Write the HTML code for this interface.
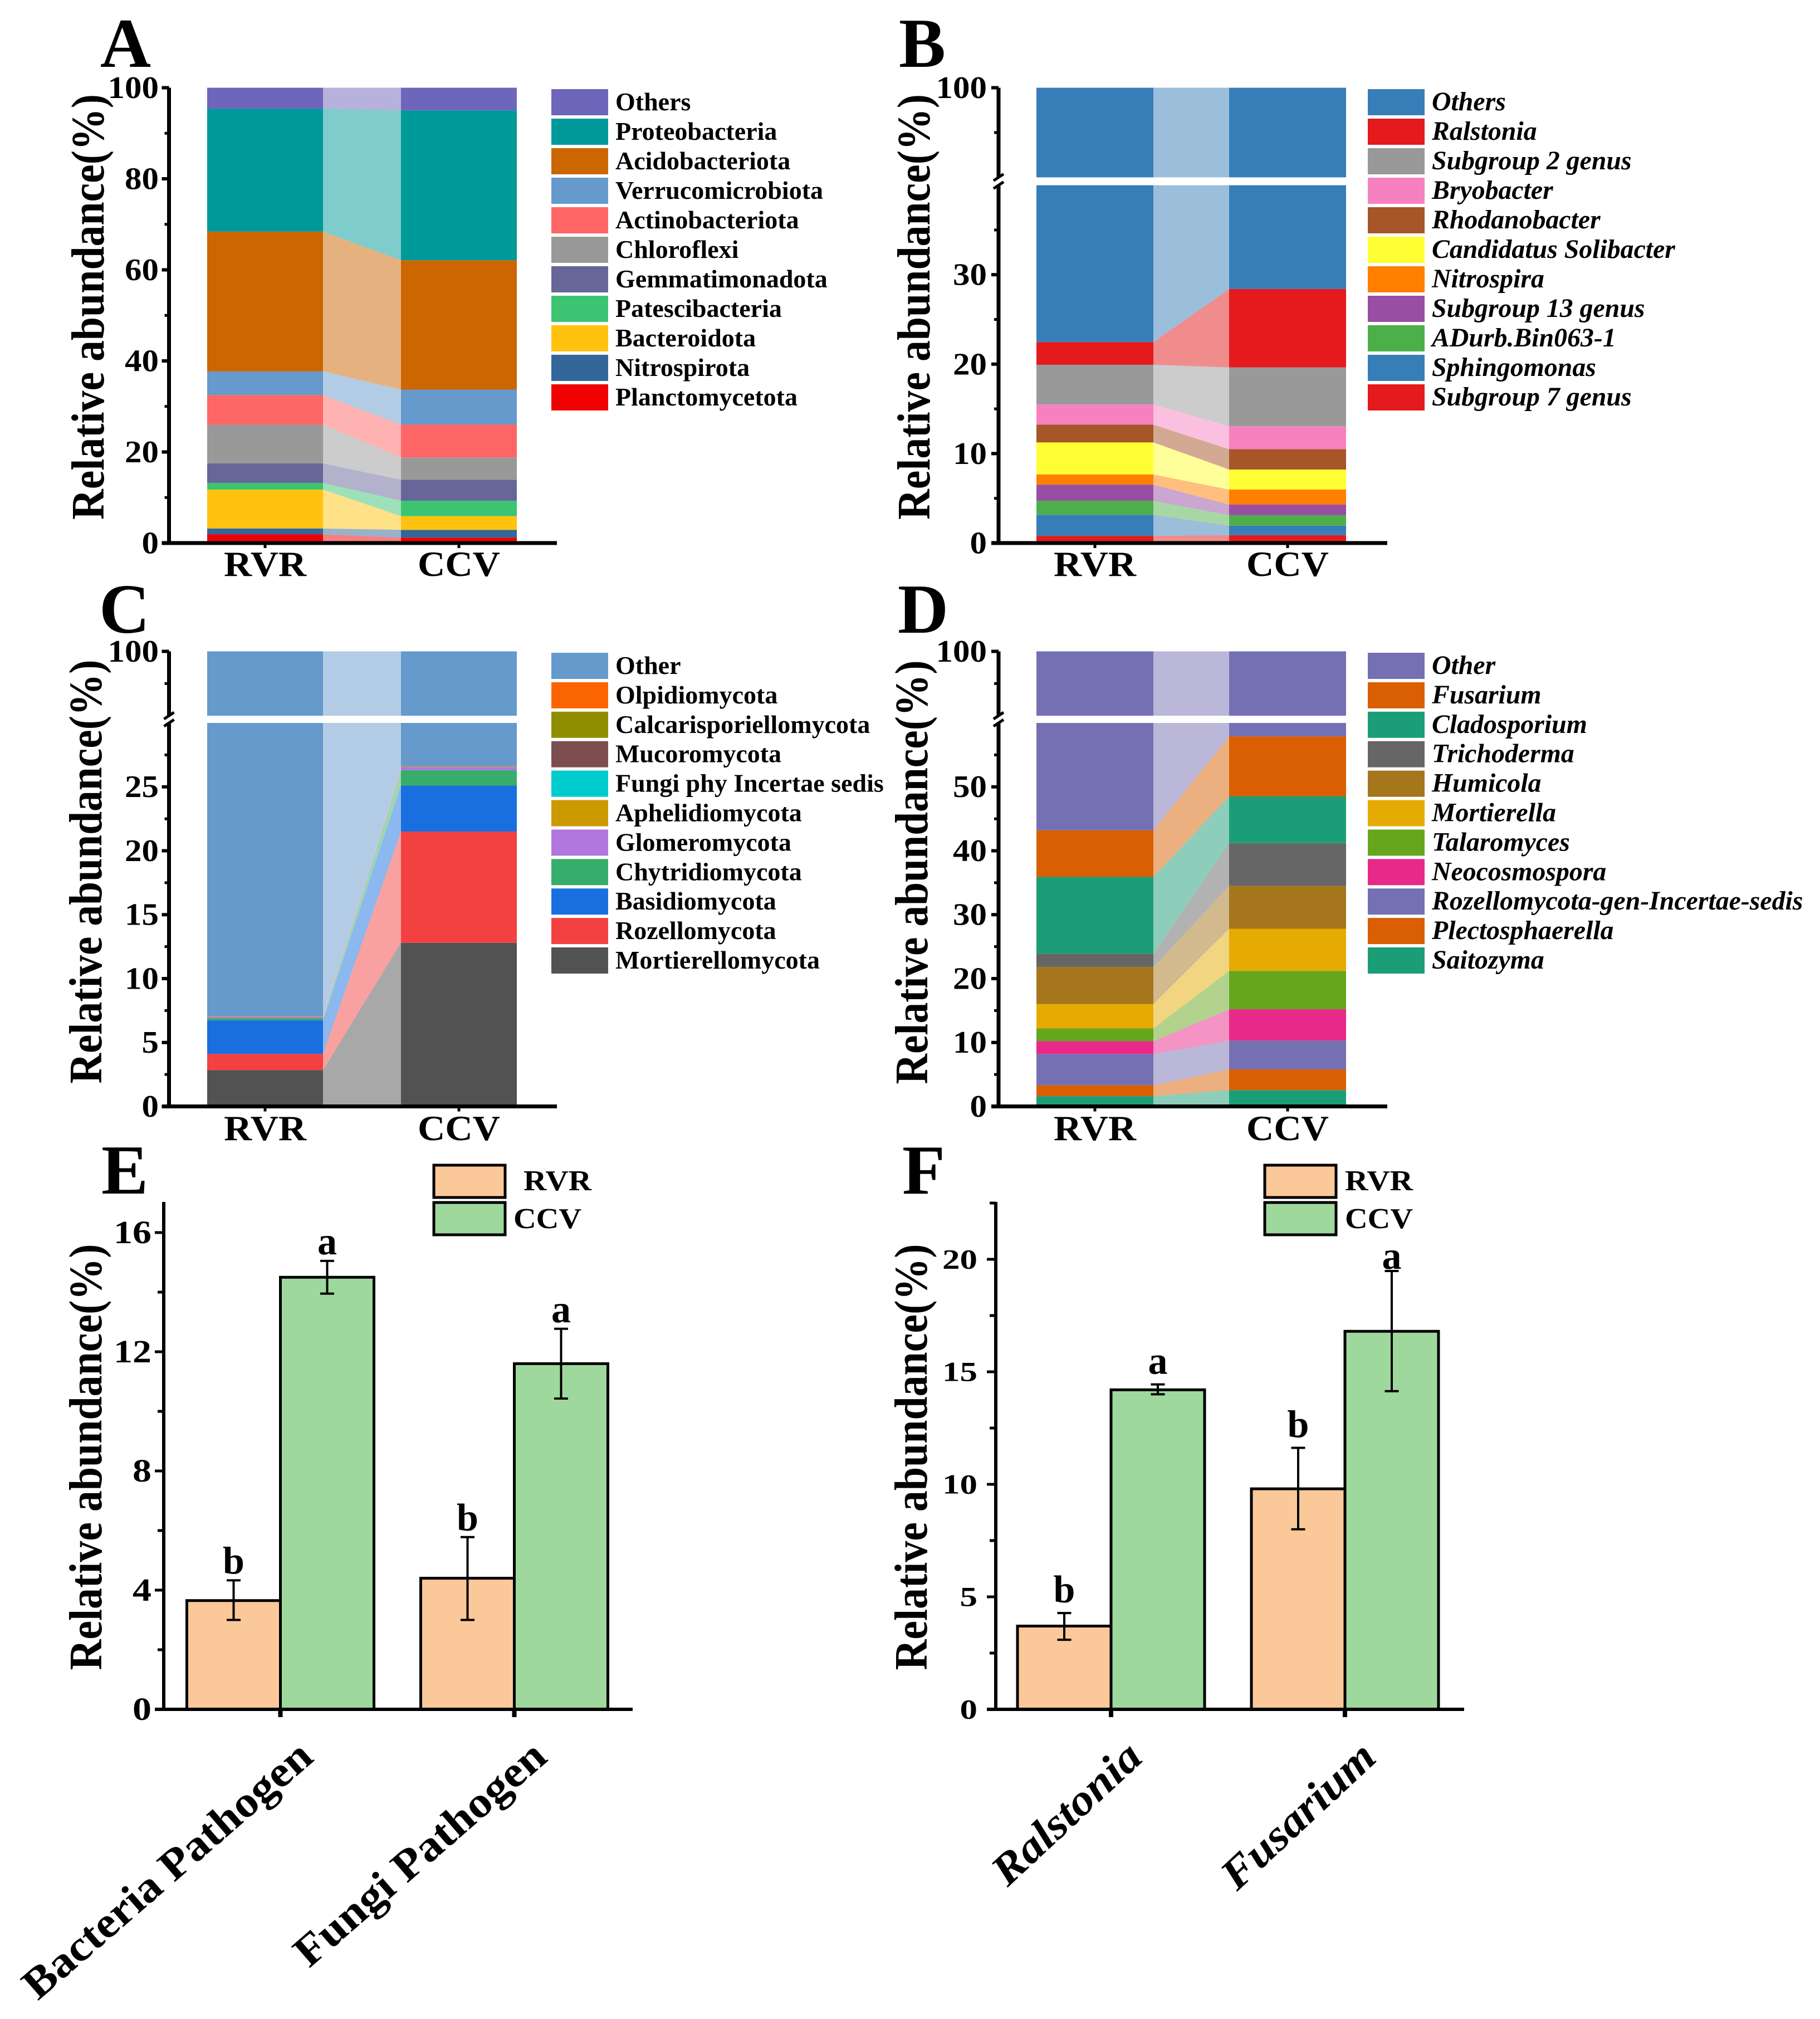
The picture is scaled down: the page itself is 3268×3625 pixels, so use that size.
<!DOCTYPE html>
<html lang="en">
<head>
<meta charset="utf-8">
<title>Relative abundance of bacterial and fungal communities in RVR and CCV</title>
<style>
html,body{margin:0;padding:0;background:#fff;}
svg{display:block;font-family:"Liberation Serif",serif;font-weight:bold;}
</style>
</head>
<body>
<svg id="figure" width="3268" height="3625" viewBox="0 0 3268 3625">
<rect x="0" y="0" width="3268" height="3625" fill="#fff"/>
<g font-size="126" fill="#000">
<text x="180" y="120">A</text>
<text x="1614" y="120">B</text>
<text x="178" y="1136">C</text>
<text x="1612" y="1136">D</text>
<text x="182" y="2143">E</text>
<text x="1620" y="2143">F</text>
</g>
<g fill="#000" text-anchor="middle">
<text transform="translate(186,551) rotate(-90)" font-size="84" textLength="764" lengthAdjust="spacingAndGlyphs">Relative abundance(%)</text>
<text transform="translate(1669,551) rotate(-90)" font-size="84" textLength="764" lengthAdjust="spacingAndGlyphs">Relative abundance(%)</text>
<text transform="translate(182,1565) rotate(-90)" font-size="84" textLength="761" lengthAdjust="spacingAndGlyphs">Relative abundance(%)</text>
<text transform="translate(1665,1566) rotate(-90)" font-size="84" textLength="761" lengthAdjust="spacingAndGlyphs">Relative abundance(%)</text>
<text transform="translate(182,2616) rotate(-90)" font-size="84" textLength="765" lengthAdjust="spacingAndGlyphs">Relative abundance(%)</text>
<text transform="translate(1664,2616) rotate(-90)" font-size="84" textLength="765" lengthAdjust="spacingAndGlyphs">Relative abundance(%)</text>
</g>
<g id="panel-a"></g>
<g id="panel-b"></g>
<g id="panel-c"></g>
<g id="panel-d"></g>
<g id="panel-e"></g>
<g id="panel-f"></g>
<g fill="#000" font-size="52">
<rect x="779" y="2092" width="128" height="58" fill="#fbc899" stroke="#000" stroke-width="5"/>
<rect x="779" y="2159" width="128" height="58" fill="#9fd89d" stroke="#000" stroke-width="5"/>
<text x="940" y="2137" textLength="122" lengthAdjust="spacingAndGlyphs">RVR</text>
<text x="922" y="2205" textLength="122" lengthAdjust="spacingAndGlyphs">CCV</text>
</g>
<g fill="#000" font-size="52">
<rect x="2271" y="2092" width="128" height="58" fill="#fbc899" stroke="#000" stroke-width="5"/>
<rect x="2271" y="2159" width="128" height="58" fill="#9fd89d" stroke="#000" stroke-width="5"/>
<text x="2415" y="2137" textLength="122" lengthAdjust="spacingAndGlyphs">RVR</text>
<text x="2415" y="2205" textLength="122" lengthAdjust="spacingAndGlyphs">CCV</text>
</g>
</svg>
<script>
// ---------- Panel A data (stack order: bottom to top) ----------
const panelACategories = ['RVR', 'CCV'];
const panelASeries = ['Planctomycetota', 'Nitrospirota', 'Bacteroidota', 'Patescibacteria', 'Gemmatimonadota', 'Chloroflexi', 'Actinobacteriota', 'Verrucomicrobiota', 'Acidobacteriota', 'Proteobacteria', 'Others'];
const panelARvr = [1.9, 1.3, 8.55, 1.45, 4.3, 8.5, 6.5, 5.2, 30.7, 27, 4.6];
const panelACcv = [1.2, 1.7, 3, 3.4, 4.6, 4.9, 7.2, 7.7, 28.4, 32.9, 5];
const panelATicks = [0, 20, 40, 60, 80, 100];
const panelAMinorTicks = [10, 30, 50, 70, 90];

// ---------- Panel B data ----------
const panelBCategories = ['RVR', 'CCV'];
const panelBSeries = ['Subgroup 7 genus', 'Sphingomonas', 'ADurb.Bin063-1', 'Subgroup 13 genus', 'Nitrospira', 'Candidatus Solibacter', 'Rhodanobacter', 'Bryobacter', 'Subgroup 2 genus', 'Ralstonia', 'Others'];
const panelBRvr = [0.8, 2.36, 1.56, 1.81, 1.14, 3.58, 1.98, 2.27, 4.43, 2.53, 77.54];
const panelBCcv = [0.88, 1.06, 1.18, 1.18, 1.68, 2.24, 2.27, 2.57, 6.58, 8.76, 71.6];
const panelBTicks = [0, 10, 20, 30, 100];
const panelBMinorTicks = [5, 15, 25, 35, 70];

// ---------- Panel C data ----------
const panelCCategories = ['RVR', 'CCV'];
const panelCSeries = ['Mortierellomycota', 'Rozellomycota', 'Basidiomycota', 'Chytridiomycota', 'Glomeromycota', 'Aphelidiomycota', 'Fungi phy Incertae sedis', 'Mucoromycota', 'Calcarisporiellomycota', 'Olpidiomycota', 'Other'];
const panelCRvr = [2.84, 1.27, 2.62, 0.17, 0.1, 0.02, 0.01, 0.01, 0.01, 0.01, 92.94];
const panelCCcv = [12.8, 8.7, 3.6, 1.2, 0.25, 0.03, 0.01, 0.01, 0.01, 0.01, 73.38];
const panelCTicks = [0, 5, 10, 15, 20, 25, 100];
const panelCMinorTicks = [2.5, 7.5, 12.5, 17.5, 22.5, 27.5, 65];

// ---------- Panel D data ----------
const panelDCategories = ['RVR', 'CCV'];
const panelDSeries = ['Saitozyma', 'Plectosphaerella', 'Rozellomycota-gen-Incertae-sedis', 'Neocosmospora', 'Talaromyces', 'Mortierella', 'Humicola', 'Trichoderma', 'Cladosporium', 'Fusarium', 'Other'];
const panelDRvr = [1.6, 1.7, 4.9, 2, 2, 3.8, 5.8, 2.1, 12, 7.3, 56.8];
const panelDCcv = [2.55, 3.25, 4.5, 4.9, 6, 6.6, 6.7, 6.7, 7.3, 9.4, 42.1];
const panelDTicks = [0, 10, 20, 30, 40, 50, 100];
const panelDMinorTicks = [5, 15, 25, 35, 45, 55, 80];

// ---------- Panel E data ----------
const panelECategories = ['Bacteria Pathogen', 'Fungi Pathogen'];
const panelERvrMean = [3.65, 4.4];
const panelECcvMean = [14.5, 11.6];
const panelERvrLow = [3.0, 3.0];
const panelERvrHigh = [4.33, 5.78];
const panelECcvLow = [13.95, 10.43];
const panelECcvHigh = [15.05, 12.77];
const panelERvrSig = ['b', 'b'];
const panelECcvSig = ['a', 'a'];
const panelETicks = [0, 4, 8, 12, 16];
const panelEMinorTicks = [2, 6, 10, 14];

// ---------- Panel F data ----------
const panelFCategories = ['Ralstonia', 'Fusarium'];
const panelFRvrMean = [3.7, 9.8];
const panelFCcvMean = [14.2, 16.8];
const panelFRvrLow = [3.09, 8.0];
const panelFRvrHigh = [4.28, 11.62];
const panelFCcvLow = [14.0, 14.14];
const panelFCcvHigh = [14.44, 19.48];
const panelFRvrSig = ['b', 'b'];
const panelFCcvSig = ['a', 'a'];
const panelFTicks = [0, 5, 10, 15, 20];
const panelFMinorTicks = [2.5, 7.5, 12.5, 17.5, 22.5];

// ---------- Series colours (same order as the series names) ----------
const panelAColors = ['#f00000', '#336699', '#ffc30f', '#3cc472', '#666699', '#999999', '#ff6666', '#6699cc', '#cc6600', '#009999', '#6e66bb'];
const panelBColors = ['#e41a1c', '#377eb8', '#4daf4a', '#984ea3', '#ff7f00', '#ffff33', '#a65628', '#f781bf', '#999999', '#e41a1c', '#377eb8'];
const panelCColors = ['#525252', '#f34141', '#1a6fdf', '#37ad6b', '#b177de', '#cc9900', '#00cbcc', '#7d4e4e', '#8e8e00', '#fb6500', '#6699cc'];
const panelDColors = ['#1b9e77', '#d95f02', '#7570b3', '#e7298a', '#66a61e', '#e6ab02', '#a6761d', '#666666', '#1b9e77', '#d95f02', '#7570b3'];

const svgNs = document.getElementById('figure').namespaceURI;

function make(tag, attrs, parent, text) {
  const node = document.createElementNS(svgNs, tag);
  for (const key in attrs) node.setAttribute(key, attrs[key]);
  if (text !== undefined) node.textContent = text;
  parent.appendChild(node);
  return node;
}

function slug(s) {
  return String(s).toLowerCase().replace(/[^a-z0-9]+/g, '-');
}

function tickLabel(parent, x, y, value, fontSize, charW, panel) {
  const str = String(value);
  const el = make('text', {
    x: x, y: y + fontSize * 0.33, 'font-size': fontSize, 'text-anchor': 'end', fill: '#000',
    textLength: str.length * charW, lengthAdjust: 'spacingAndGlyphs'
  }, parent, str);
  
  
}

function drawStack(cfg) {
  const root = document.getElementById(cfg.groupId);
  const L = cfg.layout;
  const brk = cfg.breakAt;
  const hasBreak = brk < 100;
  const lowerTop = hasBreak ? L.lowerTop : L.top;
  const yLow = function (v) { return L.y0 - (v / brk) * (L.y0 - lowerTop); };
  const yUp = function (v) { return L.upperBottom - ((v - brk) / (100 - brk)) * (L.upperBottom - L.top); };
  const segments = hasBreak
    ? [{ lo: 0, hi: brk, y: yLow }, { lo: brk, hi: 100, y: yUp }]
    : [{ lo: 0, hi: 100, y: yLow }];
  const clamp = function (v, s) { return Math.max(s.lo, Math.min(s.hi, v)); };
  const barRight = L.bar1 + L.barW;

  let r0 = 0;
  let c0 = 0;
  cfg.series.forEach(function (name, i) {
    const r1 = r0 + cfg.rvr[i];
    const c1 = c0 + cfg.ccv[i];
    const color = cfg.colors[i];
    const key = slug(name);
    segments.forEach(function (s) {
      const ra = clamp(r0, s), rb = clamp(r1, s), ca = clamp(c0, s), cb = clamp(c1, s);
      if (rb > ra || cb > ca) {
        const band = make('polygon', {
          points: barRight + ',' + s.y(rb) + ' ' + L.bar2 + ',' + s.y(cb) + ' ' + L.bar2 + ',' + s.y(ca) + ' ' + barRight + ',' + s.y(ra),
          fill: color, 'fill-opacity': 0.5
        }, root);
        
        
      }
      if (rb > ra) {
        const barR = make('rect', { x: L.bar1, y: s.y(rb), width: L.barW, height: s.y(ra) - s.y(rb), fill: color }, root);
        
        
      }
      if (cb > ca) {
        const barC = make('rect', { x: L.bar2, y: s.y(cb), width: L.barW, height: s.y(ca) - s.y(cb), fill: color }, root);
        
        
      }
    });
    r0 = r1;
    c0 = c1;
  });

  // y axis
  const axisLow = make('line', { x1: L.axisX, x2: L.axisX, y1: lowerTop, y2: L.y0, stroke: '#000', 'stroke-width': 7 }, root);
  
  
  if (hasBreak) {
    const axisUp = make('line', { x1: L.axisX, x2: L.axisX, y1: L.top, y2: L.upperBottom, stroke: '#000', 'stroke-width': 7 }, root);
    
    
    [L.upperBottom, lowerTop].forEach(function (py, idx) {
      const mark = make('line', { x1: L.axisX - 9, y1: py + 6, x2: L.axisX + 9, y2: py - 6, stroke: '#000', 'stroke-width': 5 }, root);
      
      
    });
  }
  const yOf = function (v) { return (hasBreak && v > brk) ? yUp(v) : yLow(v); };
  cfg.ticks.forEach(function (v) {
    const py = yOf(v);
    const t = make('line', { x1: L.axisX - 13, x2: L.axisX, y1: py, y2: py, stroke: '#000', 'stroke-width': 6 }, root);
    
    
    tickLabel(root, L.tickRight, py, v, 56, 30.5, cfg.groupId);
  });
  cfg.minor.forEach(function (v) {
    const py = yOf(v);
    const t = make('line', { x1: L.axisX - 8, x2: L.axisX, y1: py, y2: py, stroke: '#000', 'stroke-width': 5 }, root);
    
    
  });

  // x axis
  const xAxis = make('line', { x1: L.axisX - 13, x2: L.axisEnd, y1: L.y0, y2: L.y0, stroke: '#000', 'stroke-width': 7 }, root);
  
  
  cfg.categories.forEach(function (cat, i) {
    const cx = (i === 0 ? L.bar1 : L.bar2) + L.barW / 2;
    const tick = make('line', { x1: cx, x2: cx, y1: L.y0, y2: L.y0 + 9, stroke: '#000', 'stroke-width': 5 }, root);
    
    
    const label = make('text', {
      x: cx, y: L.catBaseline, 'font-size': 64, 'text-anchor': 'middle', fill: '#000',
      textLength: 148, lengthAdjust: 'spacingAndGlyphs'
    }, root, cat);
    
    
  });

  // legend (reads top to bottom, opposite of the stack order)
  const n = cfg.series.length;
  for (let row = 0; row < n; row++) {
    const idx = n - 1 - row;
    const ly = L.legendY + row * L.legendStep;
    const swatch = make('rect', { x: L.legendX, y: ly, width: 102, height: 47, fill: cfg.colors[idx] }, root);
    
    
    const text = make('text', {
      x: L.legendX + 115, y: ly + 24 + 14, 'font-size': cfg.italic ? 47.8 : 46, fill: '#000',
      'font-style': cfg.italic ? 'italic' : 'normal'
    }, root, cfg.series[idx]);
    
    
  }
}

function drawBars(cfg) {
  const root = document.getElementById(cfg.groupId);
  const L = cfg.layout;
  const y = function (v) { return L.y0 - v * L.perUnit; };
  const xCenter = function (i) { return L.firstCenter + i * L.bandStep; };

  cfg.categories.forEach(function (cat, i) {
    const c = xCenter(i);
    [
      { key: 'rvr', x: c - L.barW, cx: c - L.barW / 2, mean: cfg.rvrMean[i], low: cfg.rvrLow[i], high: cfg.rvrHigh[i], sig: cfg.rvrSig[i], fill: '#fbc899' },
      { key: 'ccv', x: c, cx: c + L.barW / 2, mean: cfg.ccvMean[i], low: cfg.ccvLow[i], high: cfg.ccvHigh[i], sig: cfg.ccvSig[i], fill: '#9fd89d' }
    ].forEach(function (b) {
      const id = b.key + '-' + slug(cat);
      const bar = make('rect', { x: b.x, y: y(b.mean), width: L.barW, height: L.y0 - y(b.mean), fill: b.fill, stroke: '#000', 'stroke-width': 5 }, root);
      
      
      const stem = make('line', { x1: b.cx, x2: b.cx, y1: y(b.low), y2: y(b.high), stroke: '#000', 'stroke-width': 4 }, root);
      
      
      [b.low, b.high].forEach(function (v) {
        const cap = make('line', { x1: b.cx - 12.5, x2: b.cx + 12.5, y1: y(v), y2: y(v), stroke: '#000', 'stroke-width': 4 }, root);
        
        
      });
      const letter = make('text', {
        x: b.cx, y: Math.max(y(b.high) - L.sigGap, L.sigMinY), 'font-size': 70, 'text-anchor': 'middle', fill: '#000'
      }, root, b.sig);
      
      
    });
    const tick = make('line', { x1: c, x2: c, y1: L.y0, y2: L.y0 + 14, stroke: '#000', 'stroke-width': 8 }, root);
    
    
    const ex = L.labelEndX + i * L.bandStep;
    const label = make('text', {
      transform: 'translate(' + ex + ',' + L.labelEndY + ') rotate(' + L.labelAngle + ')',
      'font-size': L.labelFont, 'text-anchor': 'end', fill: '#000',
      'font-style': cfg.italic ? 'italic' : 'normal',
      textLength: cfg.labelLengths[i], lengthAdjust: 'spacingAndGlyphs'
    }, root, cat);
    
    
  });

  const yAxis = make('line', { x1: L.axisX, x2: L.axisX, y1: L.top, y2: L.y0, stroke: '#000', 'stroke-width': 6 }, root);
  
  
  const xAxis = make('line', { x1: L.axisX - 16, x2: L.axisEnd, y1: L.y0, y2: L.y0, stroke: '#000', 'stroke-width': 6 }, root);
  
  
  cfg.ticks.forEach(function (v) {
    const t = make('line', { x1: L.axisX - 16, x2: L.axisX, y1: y(v), y2: y(v), stroke: '#000', 'stroke-width': 5 }, root);
    
    
    tickLabel(root, L.tickRight, y(v), v, L.tickFont, L.tickCharW, cfg.groupId);
  });
  cfg.minor.forEach(function (v) {
    const t = make('line', { x1: L.axisX - 11, x2: L.axisX, y1: y(v), y2: y(v), stroke: '#000', 'stroke-width': 5 }, root);
    
    
  });
}

drawStack({
  groupId: 'panel-a', categories: panelACategories, series: panelASeries, rvr: panelARvr, ccv: panelACcv,
  colors: panelAColors, ticks: panelATicks, minor: panelAMinorTicks, breakAt: 100, italic: false,
  layout: { axisX: 303.5, top: 157.5, y0: 975, bar1: 372, bar2: 720, barW: 208, axisEnd: 1000, legendX: 990, legendY: 160, legendStep: 53, catBaseline: 1034, tickRight: 285 }
});
drawStack({
  groupId: 'panel-b', categories: panelBCategories, series: panelBSeries, rvr: panelBRvr, ccv: panelBCcv,
  colors: panelBColors, ticks: panelBTicks, minor: panelBMinorTicks, breakAt: 40, italic: true,
  layout: { axisX: 1793, top: 157.5, upperBottom: 318.4, lowerTop: 332.6, y0: 975, bar1: 1861, bar2: 2207, barW: 210, axisEnd: 2491, legendX: 2456, legendY: 160, legendStep: 53, catBaseline: 1034, tickRight: 1772 }
});
drawStack({
  groupId: 'panel-c', categories: panelCCategories, series: panelCSeries, rvr: panelCRvr, ccv: panelCCcv,
  colors: panelCColors, ticks: panelCTicks, minor: panelCMinorTicks, breakAt: 30, italic: false,
  layout: { axisX: 303.5, top: 1169.5, upperBottom: 1285, lowerTop: 1298, y0: 1986.5, bar1: 372, bar2: 720, barW: 208, axisEnd: 1000, legendX: 990, legendY: 1172, legendStep: 52.9, catBaseline: 2047, tickRight: 285 }
});
drawStack({
  groupId: 'panel-d', categories: panelDCategories, series: panelDSeries, rvr: panelDRvr, ccv: panelDCcv,
  colors: panelDColors, ticks: panelDTicks, minor: panelDMinorTicks, breakAt: 60, italic: true,
  layout: { axisX: 1793, top: 1169.5, upperBottom: 1285, lowerTop: 1298, y0: 1986.5, bar1: 1861, bar2: 2207, barW: 210, axisEnd: 2491, legendX: 2456, legendY: 1172, legendStep: 52.9, catBaseline: 2047, tickRight: 1772 }
});
drawBars({
  groupId: 'panel-e', categories: panelECategories, rvrMean: panelERvrMean, ccvMean: panelECcvMean,
  rvrLow: panelERvrLow, rvrHigh: panelERvrHigh, ccvLow: panelECcvLow, ccvHigh: panelECcvHigh,
  rvrSig: panelERvrSig, ccvSig: panelECcvSig, ticks: panelETicks, minor: panelEMinorTicks,
  italic: false, labelLengths: [660, 571],
  layout: { axisX: 294, axisEnd: 1136, top: 2158, y0: 3069, perUnit: 53.5, firstCenter: 503.5, bandStep: 420, barW: 168, tickRight: 272, tickFont: 58, tickCharW: 34, sigGap: 12, sigMinY: 0, labelEndX: 566, labelEndY: 3160, labelAngle: -41, labelFont: 78 }
});
drawBars({
  groupId: 'panel-f', categories: panelFCategories, rvrMean: panelFRvrMean, ccvMean: panelFCcvMean,
  rvrLow: panelFRvrLow, rvrHigh: panelFRvrHigh, ccvLow: panelFCcvLow, ccvHigh: panelFCcvHigh,
  rvrSig: panelFRvrSig, ccvSig: panelFCcvSig, ticks: panelFTicks, minor: panelFMinorTicks,
  italic: true, labelLengths: [336, 347],
  layout: { axisX: 1788, axisEnd: 2629, top: 2158, y0: 3069, perUnit: 40.4, firstCenter: 1995, bandStep: 420, barW: 168, tickRight: 1755, tickFont: 50, tickCharW: 31.5, sigGap: 19, sigMinY: 2278, labelEndX: 2055, labelEndY: 3160, labelAngle: -43, labelFont: 78 }
});
</script>
</body>
</html>
